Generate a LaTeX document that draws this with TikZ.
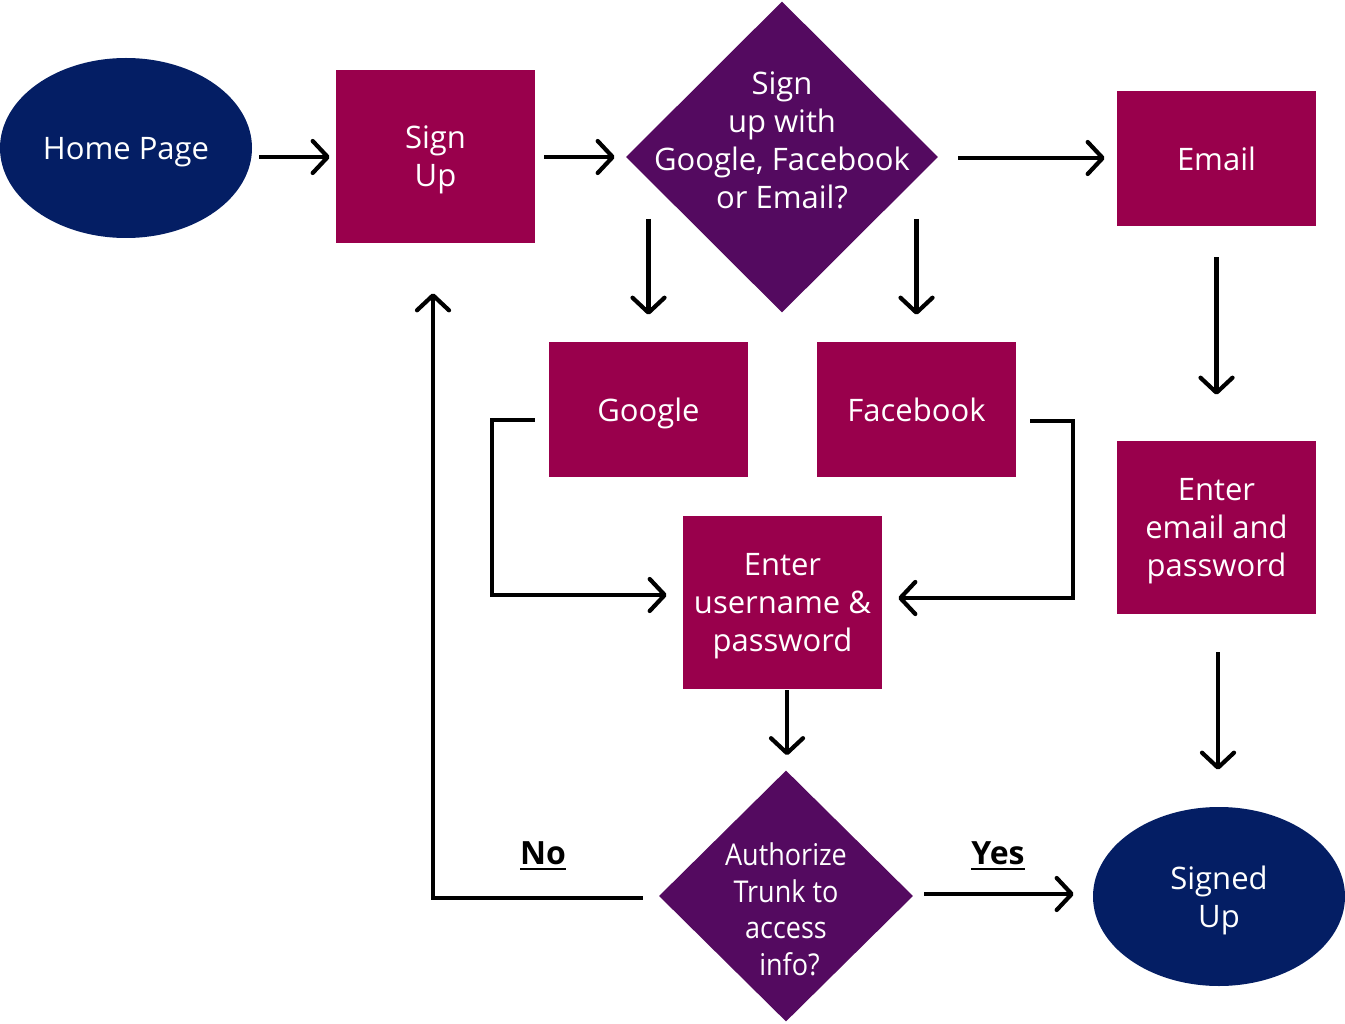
\documentclass[tikz,border=0pt]{standalone}
\usepackage{fontspec}
\setmainfont{Open Sans}
\newfontfamily\condfont[FakeStretch=0.9]{Open Sans}
\usetikzlibrary{shapes.geometric,arrows.meta,positioning,calc}
\definecolor{boxred}{HTML}{99004C}
\definecolor{choicepurple}{HTML}{540A60}
\definecolor{ovalblue}{HTML}{041E64}
\tikzstyle{process} = [
  rectangle,
  fill=boxred,
  text=white,
  minimum width=199pt,
  inner sep=0pt,
  text depth=0pt,
  align=center,
  font=\fontsize{31}{38}\selectfont]
\tikzstyle{terminal} = [
  ellipse,
  fill=ovalblue,
  text=white,
  minimum width=252pt,
  minimum height=180pt,
  inner sep=0pt,
  text depth=0pt,
  align=center,
  font=\fontsize{31}{38}\selectfont]
\tikzstyle{decision} = [diamond, aspect=1, fill=choicepurple, inner sep=0pt]
\tikzstyle{decisiontext} = [text=white, align=center, inner sep=0pt]
\tikzstyle{arr} = [line width=4.2pt, -{Straight Barb[length=15pt,width=32pt,round]}]
\tikzstyle{answer} = [font=\bfseries\fontsize{32}{36}\selectfont, inner sep=0pt]
\newcommand{\thickunder}[1]{\setbox0\hbox{#1}\rlap{\rule[-5pt]{\wd0}{2.4pt}}\box0}

\begin{document}
\begin{tikzpicture}[x=1pt,y=-1pt]
  \useasboundingbox (0,0) rectangle (1345,1024);

  % top row
  \node[terminal] (home) at (126,148) {Home Page};
  \node[process, minimum height=173pt] (signup) at (435.5,156.5) {Sign\\Up};
  \node[decision, minimum width=312pt, minimum height=311pt] (choice) at (782,157) {};
  \node[decisiontext, font=\fontsize{31}{38}\selectfont] (choicetext) at (782,140)
    {Sign\\up with\\Google, Facebook\\or Email?};
  \node[process, minimum height=135pt] (email) at (1216.5,158.5) {Email};

  % middle
  \node[process, minimum height=135pt] (google) at (648.5,409.5) {Google};
  \node[process, minimum height=135pt] (facebook) at (916.5,409.5) {Facebook};
  \node[process, minimum height=173pt] (enteruser) at (782.5,602.5) {Enter\\username \&\\password};
  \node[process, minimum height=173pt] (enteremail) at (1216.5,527.5) {Enter\\email and\\password};

  % bottom row
  \node[decision, minimum width=254pt, minimum height=251pt] (authorize) at (786,896) {};
  \node[decisiontext, font=\condfont\fontsize{30}{36.5}\selectfont] (authorizetext) at (786,909.5)
    {Authorize\\Trunk to\\access\\\ info?};
  \node[terminal, minimum height=179pt] (signed) at (1219,896.5) {Signed\\Up};
  \node[answer] (no) at (543,856) {\thickunder{No}};
  \node[answer] (yes) at (998,856) {\thickunder{Yes}};

  \draw[arr] ($(home.east)+(7,9)$) -- ($(signup.west)+(-6,0.5)$);
  \draw[arr] ($(signup.east)+(9,0.5)$) -- ($(choice.west)+(-11,0)$);
  \draw[arr] ($(choice.east)+(20,1)$) -- ($(email.west)+(-12,-0.5)$);
  \draw[arr] ($(google.north)+(0,-123)$) -- ($(google.north)+(0,-27)$);
  \draw[arr] ($(facebook.north)+(0,-123)$) -- ($(facebook.north)+(0,-27)$);
  \draw[arr] ($(email.south)+(0,31)$) -- ($(enteremail.north)+(0,-46)$);
  \draw[arr] ($(google.west)+(-14,10.5)$) -- ++(-43,0) |- ($(enteruser.west)+(-16,-7.5)$);
  \draw[arr] ($(facebook.east)+(14,11.5)$) -- ++(43,0) |- ($(enteruser.east)+(16,-4.5)$);
  \draw[arr] ($(enteruser.south)+(4.5,1)$) -- ($(authorize.north)+(1,-15)$);
  \draw[arr] ($(enteremail.south)+(1.5,38)$) -- ($(signed.north)+(-1,-37)$);
  \draw[arr] ($(authorize.east)+(11,-2)$) -- ($(signed.west)+(-19,-2.5)$);
  \draw[arr] ($(authorize.west)+(-16,2)$) -| ($(signup.south)+(-2.5,50)$);

\end{tikzpicture}
\end{document}
